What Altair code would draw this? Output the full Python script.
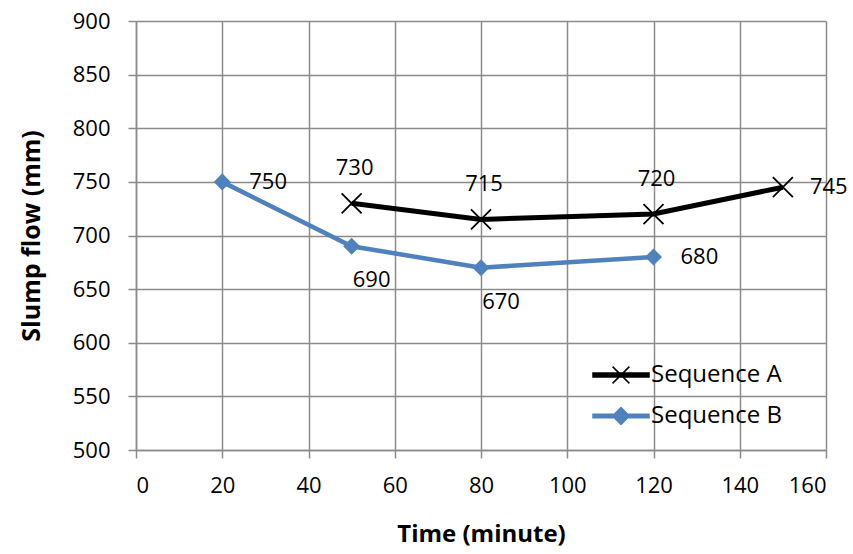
import altair as alt
import pandas as pd

series_names = ["Sequence A", "Sequence B"]
series_colors = ["#000000", "#4F81BD"]

a_time = [50, 80, 120, 150]
a_flow = [730, 715, 720, 745]
a_place = ["above", "above", "above", "right"]

b_time = [20, 50, 80, 120]
b_flow = [750, 690, 670, 680]
b_place = ["right", "below", "below", "right"]

x_ticks = [0, 20, 40, 60, 80, 100, 120, 140, 160]
y_ticks = [500, 550, 600, 650, 700, 750, 800, 850, 900]

rows = []
for t, f, p in zip(a_time, a_flow, a_place):
    rows.append({"series": series_names[0], "time": t, "flow": f, "place": p})
for t, f, p in zip(b_time, b_flow, b_place):
    rows.append({"series": series_names[1], "time": t, "flow": f, "place": p})
df = pd.DataFrame(rows)

FONT = "Open Sans"
GRID = "#8c8c8c"

x_enc = alt.X("time:Q", scale=alt.Scale(domain=[0, 160], nice=False),
              axis=alt.Axis(values=x_ticks, title="Time (minute)", grid=True,
                            gridColor=GRID, gridWidth=1.5, domainColor=GRID, domainWidth=1.5,
                            tickColor=GRID, tickWidth=1.5, tickSize=8, labelPadding=17,
                            labelFontSize=22, labelFont=FONT, labelColor="#000000",
                            titleFontSize=24, titleFont=FONT, titleFontWeight="bold",
                            titleColor="#000000", titlePadding=26))
y_enc = alt.Y("flow:Q", scale=alt.Scale(domain=[500, 900], nice=False),
              axis=alt.Axis(values=y_ticks, title="Slump flow (mm)", grid=True,
                            gridColor=GRID, gridWidth=1.5, domainColor=GRID, domainWidth=1.5,
                            tickColor=GRID, tickWidth=1.5, tickSize=8, labelPadding=18,
                            labelFontSize=22, labelFont=FONT, labelColor="#000000",
                            titleFontSize=25, titleFont=FONT, titleFontWeight="bold",
                            titleColor="#000000", titlePadding=28))

base = alt.Chart(df).encode(x=x_enc, y=y_enc)
fa = alt.datum.series == series_names[0]
fb = alt.datum.series == series_names[1]

line_a = base.transform_filter(fa).mark_line(color=series_colors[0], strokeWidth=5)
pts_a = base.transform_filter(fa).mark_point(
    shape="M-1,-1L1,1M-1,1L1,-1", size=400, color=series_colors[0],
    strokeWidth=1.8, filled=False, opacity=1)
line_b = base.transform_filter(fb).mark_line(color=series_colors[1], strokeWidth=4.5)
pts_b = base.transform_filter(fb).mark_point(
    shape="diamond", size=290, color=series_colors[1], filled=True, opacity=1)

txt = dict(fontSize=22, font=FONT, color="#000000")
lab_above = base.transform_filter(alt.datum.place == "above").mark_text(
    dy=-35, dx=3, align="center", baseline="middle", **txt).encode(text="flow:Q")
lab_right = base.transform_filter(alt.datum.place == "right").mark_text(
    dx=27, align="left", baseline="middle", **txt).encode(text="flow:Q")
lab_below = base.transform_filter(alt.datum.place == "below").mark_text(
    dy=34, dx=20, align="center", baseline="middle", **txt).encode(text="flow:Q")

path_a = "M-1,-0.07H1V0.07H-1ZM-0.3,-0.3L0.3,0.3M-0.3,0.3L0.3,-0.3"
path_b = "M-1,-0.06H1V0.06H-1ZM0,-0.3L0.3,0L0,0.3L-0.3,0Z"

leg = alt.Legend(title=None, orient="none", legendX=456, legendY=325,
                 symbolSize=3136, symbolStrokeWidth=1.5, labelFontSize=24,
                 labelFont=FONT, labelColor="#000000", labelOffset=1, rowPadding=-6)

legend_layer = alt.Chart(df).transform_filter("false").mark_point(filled=True, opacity=1).encode(
    shape=alt.Shape("series:N", scale=alt.Scale(domain=series_names, range=[path_a, path_b]), legend=leg),
    fill=alt.Fill("series:N", scale=alt.Scale(domain=series_names, range=series_colors), legend=leg),
    stroke=alt.Stroke("series:N", scale=alt.Scale(domain=series_names, range=series_colors), legend=leg),
)

chart = alt.layer(line_a, line_b, pts_a, pts_b, lab_above, lab_right, lab_below, legend_layer).properties(
    width=690, height=429,
    autosize=alt.AutoSizeParams(type="none"),
    padding={"left": 136, "top": 21, "right": 27, "bottom": 104},
    background="white",
).configure_view(stroke=None)

chart.save("out.html", embed_options={"renderer": "svg", "actions": False})
